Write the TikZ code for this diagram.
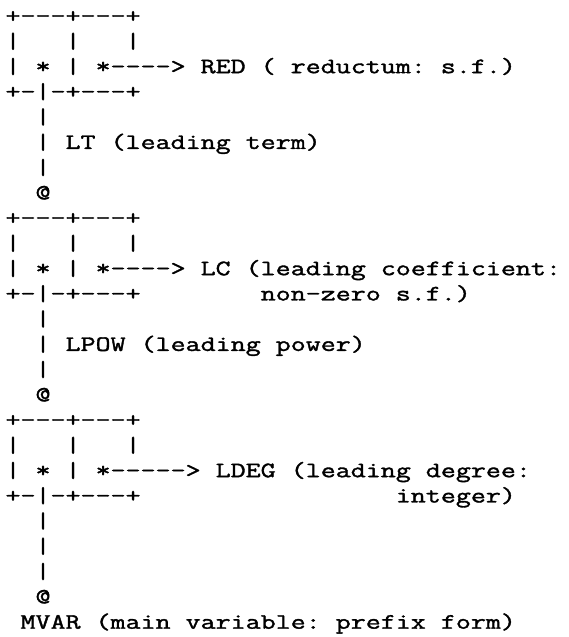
\documentclass[tikz,border=0pt]{standalone}
\usepackage{fontspec}
\setmonofont{Latin Modern Mono}[FakeStretch=1.325, FakeBold=1.6]
\tikzset{
  asc/.style={anchor=base west, inner sep=0pt, outer sep=0pt,
    font=\ttfamily\fontsize{22}{25}\selectfont, text=black}
}
\newcommand\asciiline[3]{\node[asc] (#1) at (5.5pt,{-22.7pt-25.25pt*#2}) {#3};}
\begin{document}
\begin{tikzpicture}[x=1pt,y=1pt]
\useasboundingbox[fill=white] (0,0) rectangle (569,-637);
\asciiline{l0}{0}{+-{}-{}-+-{}-{}-+}
\asciiline{l1}{1}{|~~~|~~~|}
\asciiline{l2}{2}{|~*~|~*-{}-{}-{}->~RED~(~reductum:~s.f.)}
\asciiline{l3}{3}{+-|-+-{}-{}-+}
\asciiline{l4}{4}{~~|}
\asciiline{l5}{5}{~~|~LT~(leading~term)}
\asciiline{l6}{6}{~~|}
\asciiline{l7}{7}{~~@}
\asciiline{l8}{8}{+-{}-{}-+-{}-{}-+}
\asciiline{l9}{9}{|~~~|~~~|}
\asciiline{l10}{10}{|~*~|~*-{}-{}-{}->~LC~(leading~coefficient:}
\asciiline{l11}{11}{+-|-+-{}-{}-+~~~~~~~~non-zero~s.f.)}
\asciiline{l12}{12}{~~|}
\asciiline{l13}{13}{~~|~LPOW~(leading~power)}
\asciiline{l14}{14}{~~|}
\asciiline{l15}{15}{~~@}
\asciiline{l16}{16}{+-{}-{}-+-{}-{}-+}
\asciiline{l17}{17}{|~~~|~~~|}
\asciiline{l18}{18}{|~*~|~*-{}-{}-{}-{}->~LDEG~(leading~degree:}
\asciiline{l19}{19}{+-|-+-{}-{}-+~~~~~~~~~~~~~~~~~integer)}
\asciiline{l20}{20}{~~|}
\asciiline{l21}{21}{~~|}
\asciiline{l22}{22}{~~|}
\asciiline{l23}{23}{~~@}
\asciiline{l24}{24}{~MVAR~(main~variable:~prefix~form)}
\end{tikzpicture}
\end{document}
